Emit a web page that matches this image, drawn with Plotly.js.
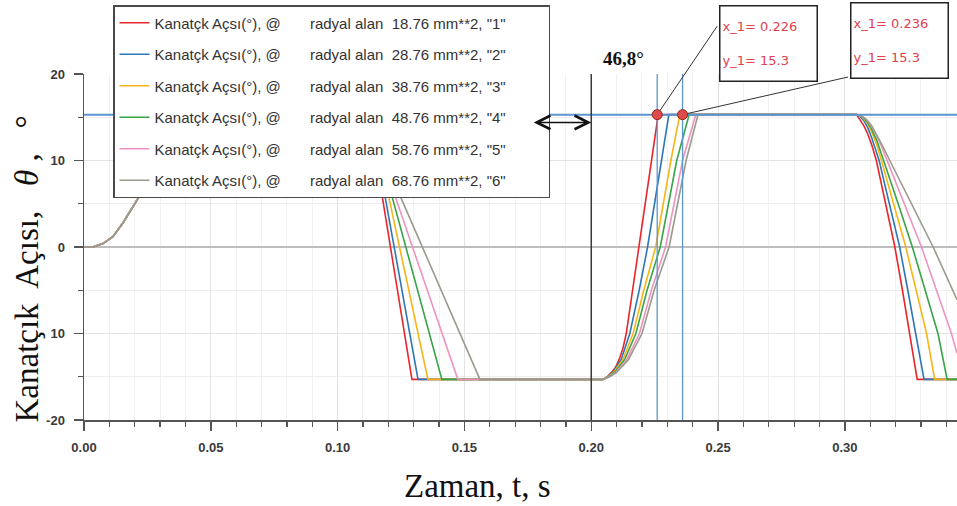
<!DOCTYPE html>
<html><head><meta charset="utf-8">
<script src="https://cdn.plot.ly/plotly-3.0.1.min.js"></script>
<style>html,body{margin:0;padding:0;background:#fff}#chart{width:957px;height:506px}</style>
</head><body><div id="chart"></div>
<script>
// ---- data ----
const areas = ["18.76", "28.76", "38.76", "48.76", "58.76", "68.76"];
const runLabels = ["1", "2", "3", "4", "5", "6"];
const colors = ["#e8262b", "#2e77b5", "#f7b518", "#37a448", "#ec94bf", "#9b9a8c"];

const t1 = [0,0.0035,0.0075,0.0114,0.0154,0.0193,0.0221,0.027,0.032,0.036,0.039,0.108,0.112,0.1175,0.1293,0.2046,0.2063,0.2080,0.2096,0.2110,0.2125,0.2138,0.2163,0.2188,0.2238,0.2264,0.3046,0.3061,0.3075,0.3088,0.3106,0.3124,0.3140,0.3157,0.3177,0.3197,0.3227,0.3256,0.3285,0.3442];
const y1 = [0,0,0.4,1.2,2.8,4.6,6.0,9.0,12.2,14.5,15.3,15.3,14.0,6.0,-15.3,-15.3,-15.0,-14.5,-13.9,-13.0,-11.7,-10.0,-5.0,0,10,15.3,15.3,14.7,14.0,13.2,11.8,10,7.8,5.4,2.8,0,-5,-10,-15.3,-15.3];

const t2 = [0,0.0035,0.0075,0.0114,0.0154,0.0193,0.0221,0.027,0.032,0.036,0.039,0.108,0.1125,0.1186,0.1317,0.2046,0.2065,0.2085,0.2101,0.2118,0.2152,0.2189,0.2222,0.2276,0.2306,0.3046,0.3060,0.3075,0.3090,0.3105,0.3120,0.3135,0.3155,0.3175,0.3196,0.3216,0.3248,0.3279,0.3312,0.3442];
const y2 = [0,0,0.4,1.2,2.8,4.6,6.0,9.0,12.2,14.5,15.3,15.3,14.0,6.0,-15.3,-15.3,-15.0,-14.5,-13.8,-13.0,-10.0,-5.0,0,10,15.3,15.3,15.1,14.6,13.8,12.7,11.4,10,7.5,5,2.5,0,-5,-10,-15.3,-15.3];

const t3 = [0,0.0035,0.0075,0.0114,0.0154,0.0193,0.0221,0.027,0.032,0.036,0.039,0.108,0.113,0.1200,0.1356,0.2046,0.2067,0.2088,0.2106,0.2125,0.2165,0.2207,0.2254,0.2314,0.2349,0.3046,0.3066,0.3086,0.3106,0.3126,0.3144,0.3192,0.3240,0.3281,0.3322,0.3354,0.3442];
const y3 = [0,0,0.4,1.2,2.8,4.6,6.0,9.0,12.2,14.5,15.3,15.3,14.0,6.0,-15.3,-15.3,-15.0,-14.5,-13.8,-13.0,-10.0,-5.0,0,10,15.3,15.3,15.08,14.4,13.3,11.8,10,5,0,-5,-10,-15.3,-15.3];

const t4 = [0,0.0035,0.0075,0.0114,0.0154,0.0193,0.0221,0.027,0.032,0.036,0.039,0.108,0.113,0.1213,0.1411,0.2046,0.2069,0.2092,0.2112,0.2132,0.2176,0.2220,0.2272,0.2337,0.2386,0.3046,0.3066,0.3086,0.3106,0.3126,0.3140,0.3153,0.3210,0.3266,0.3316,0.3367,0.3403,0.3442];
const y4 = [0,0,0.4,1.2,2.8,4.6,6.0,9.0,12.2,14.5,15.3,15.3,14.0,6.0,-15.3,-15.3,-15.0,-14.5,-13.8,-13.0,-10.0,-5.0,0,10,15.3,15.3,15.1,14.55,13.6,12.3,11.1,10,5,0,-5,-10,-15.3,-15.3];

const t5 = [0,0.0035,0.0075,0.0114,0.0154,0.0193,0.0221,0.027,0.032,0.036,0.039,0.108,0.113,0.1225,0.1474,0.2046,0.2071,0.2097,0.2118,0.2140,0.2190,0.2237,0.2293,0.2360,0.2412,0.3046,0.3066,0.3086,0.3106,0.3126,0.3142,0.3166,0.3234,0.3302,0.3361,0.3420,0.3442];
const y5 = [0,0,0.4,1.2,2.8,4.6,6.0,9.0,12.2,14.5,15.3,15.3,14.0,6.0,-15.3,-15.3,-15.0,-14.5,-13.8,-13.0,-10.0,-5.0,0,10,15.3,15.3,15.15,14.7,13.9,12.85,11.8,10,5,0,-5,-10,-12.3];

const t6 = [0,0.0035,0.0075,0.0114,0.0154,0.0193,0.0221,0.027,0.032,0.036,0.039,0.108,0.113,0.1245,0.1561,0.2046,0.2072,0.2100,0.2123,0.2147,0.2200,0.2248,0.2307,0.2374,0.2421,0.3046,0.3066,0.3086,0.3106,0.3127,0.3150,0.3177,0.3220,0.3262,0.3305,0.3348,0.3442];
const y6 = [0,0,0.4,1.2,2.8,4.6,6.0,9.0,12.2,14.5,15.3,15.3,14.0,6.0,-15.3,-15.3,-15.0,-14.5,-13.8,-13.0,-10.0,-5.0,0,10,15.3,15.3,15.15,14.7,14.0,12.9,11.6,10,7.5,5,2.5,0,-6.1];

const cursorX = [0.226, 0.236];
const cursorY = 15.3;
const refLineX = 0.2;
const xTickVals = [0, 0.05, 0.10, 0.15, 0.20, 0.25, 0.30];
const xTickText = ["0.00", "0.05", "0.10", "0.15", "0.20", "0.25", "0.30"];
const yTickVals = [-20, -10, 0, 10, 20];
const yTickText = ["-20", "10", "0", "10", "20"];

// ---- build ----
const T = [t1, t2, t3, t4, t5, t6];
const Y = [y1, y2, y3, y4, y5, y6];
const nb = n => "\u00a0".repeat(n);
const traces = T.map((t, i) => ({
  x: t, y: Y[i], type: "scatter", mode: "lines",
  line: {color: colors[i], width: 1.6},
  name: "Kanatçk Açsı(°), @" + nb(7) + "radyal alan" + nb(2) + areas[i] + " mm**2, \"" + runLabels[i] + "\"" + nb(9),
  legendgroup: "g" + i
}));

const cursorCol = "#5b96d2";
const shapes = [
  {type: "line", xref: "paper", yref: "y", x0: 0, x1: 1, y0: cursorY, y1: cursorY, line: {color: cursorCol, width: 2}, layer: "above"},
  {type: "line", xref: "x", yref: "paper", x0: refLineX, x1: refLineX, y0: 0, y1: 1, line: {color: "#3a3a3a", width: 1.5}, layer: "above"},
];
cursorX.forEach(cx => shapes.push({type: "line", xref: "x", yref: "paper", x0: cx, x1: cx, y0: 0, y1: 1, line: {color: cursorCol, width: 1.3}, layer: "above"}));
// markers
cursorX.forEach(cx => shapes.push({type: "circle", xref: "x", yref: "y", xsizemode: "pixel", ysizemode: "pixel",
  xanchor: cx, yanchor: cursorY, x0: -5, x1: 5, y0: -5, y1: 5, fillcolor: "#dd4b4b", line: {color: "#9a2020", width: 1}, layer: "above"}));

const annotations = [];
// double arrow pointing at the reference line
annotations.push({xref: "x", yref: "y", x: refLineX, y: 14.4, ax: -59, ay: 0, text: "", showarrow: true,
  arrowside: "end+start", arrowhead: 5, startarrowhead: 5, arrowsize: 1.8, startarrowsize: 1.8, arrowwidth: 1.5, arrowcolor: "#111"});
// connectors from the markers to the callout boxes
const conn = [[61, -90], [167, -38]];
cursorX.forEach((cx, i) => annotations.push({xref: "x", yref: "y", x: cx, y: cursorY, ax: conn[i][0], ay: conn[i][1],
  text: "", showarrow: true, arrowhead: 0, arrowwidth: 1, arrowcolor: "#333", standoff: 5}));
const boxFont = {family: "DejaVu Sans, sans-serif", size: 13, color: "#e2404f"};
const boxShift = [[111, 71.5], [217, 74]];
cursorX.forEach((cx, i) => annotations.push({
  xref: "x", yref: "y", x: cx, y: cursorY, xshift: boxShift[i][0], yshift: boxShift[i][1],
  showarrow: false, text: "x_1= " + cx.toFixed(3) + "<br>" + nb(1) + "<br>y_1= " + cursorY,
  font: boxFont, align: "left", width: 92, height: 70, bgcolor: "#fff", bordercolor: "#222", borderwidth: 1.5, borderpad: 2
}));
annotations.push({xref: "paper", yref: "paper", x: (623 - 84) / 873, y: (420 - 59) / 346, xanchor: "center", yanchor: "middle", showarrow: false,
  text: "46,8°", font: {family: "Liberation Serif, serif", size: 19, color: "#111", weight: "bold"}});
annotations.push({xref: "paper", yref: "paper", x: (26 - 84) / 873, y: (420 - 269.5) / 346, xanchor: "center", yanchor: "middle", showarrow: false, textangle: -90,
  text: "Kanatçık" + nb(1) + " Açısı," + nb(2) + " <i>θ</i>" + nb(1) + "," + nb(2) + " °", font: {family: "Liberation Serif, serif", size: 33, color: "#111"}});
annotations.push({xref: "paper", yref: "paper", x: (477.5 - 84) / 873, y: (420 - 486) / 346, xanchor: "center", yanchor: "middle", showarrow: false,
  text: "Zaman, t, s", font: {family: "Liberation Serif, serif", size: 33, color: "#111"}});

const tickFont = {family: "Liberation Sans, Arial, sans-serif", size: 13, color: "#3a3a3a", weight: "bold"};
const layout = {
  width: 957, height: 506,
  margin: {l: 84, r: 0, t: 74, b: 86, pad: 0},
  paper_bgcolor: "#fff", plot_bgcolor: "#fff",
  showlegend: true,
  legend: {x: (113 - 84) / 873, y: (420 - 5) / 346, xanchor: "left", yanchor: "top",
    bgcolor: "#fff", bordercolor: "#4a4a4a", borderwidth: 1.5, traceorder: "grouped", tracegroupgap: 9,
    font: {family: "Liberation Sans, Arial, sans-serif", size: 15, color: "#333"}, itemwidth: 30},
  xaxis: {range: [0, 0.3442], tickvals: xTickVals, ticktext: xTickText, ticks: "outside", ticklen: 9, tickwidth: 1.5, tickcolor: "#555",
    showline: true, linecolor: "#555", linewidth: 1.5, showgrid: true, gridcolor: "#e3e3e3", gridwidth: 1, zeroline: false,
    tickfont: tickFont, ticklabelstandoff: 6,
    minor: {dtick: 0.01, ticks: "outside", ticklen: 5, tickcolor: "#555", tickwidth: 1.2, showgrid: true, gridcolor: "#f1f1f1"}, fixedrange: true},
  yaxis: {range: [-20, 20], tickvals: yTickVals, ticktext: yTickText, ticks: "outside", ticklen: 9, tickwidth: 1.5, tickcolor: "#555",
    showline: true, linecolor: "#555", linewidth: 1.5, showgrid: true, gridcolor: "#e3e3e3", gridwidth: 1,
    zeroline: true, zerolinecolor: "#bdbdbd", zerolinewidth: 1.5, tickfont: tickFont, ticklabelstandoff: 6,
    minor: {dtick: 5, ticks: "outside", ticklen: 5, tickcolor: "#555", tickwidth: 1.2, showgrid: true, gridcolor: "#eeeeee"}, fixedrange: true},
  shapes: shapes, annotations: annotations
};
Plotly.newPlot("chart", traces, layout, {displayModeBar: false, staticPlot: true});
</script></body></html>
